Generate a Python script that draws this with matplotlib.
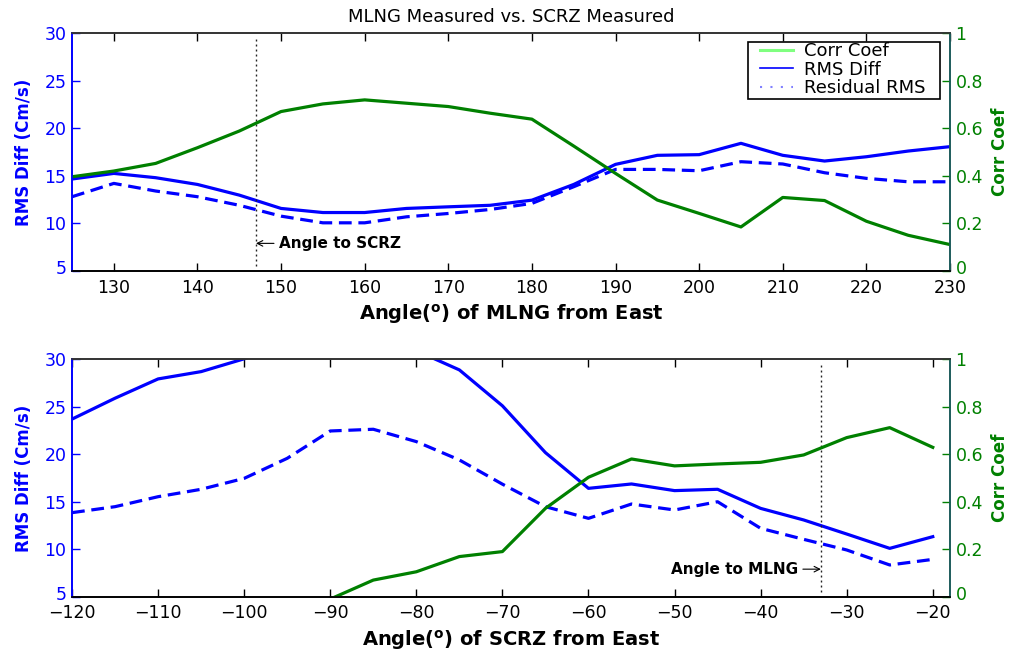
import numpy as np
import matplotlib
matplotlib.use("Agg")
import matplotlib.pyplot as plt
from matplotlib.lines import Line2D
from matplotlib.patches import Rectangle
from matplotlib.transforms import offset_copy, ScaledTranslation

# ---- data -------------------------------------------------------------
top_angle = [125, 130, 135, 140, 145, 150, 155, 160, 165, 170, 175,
             180, 185, 190, 195, 200, 205, 210, 215, 220, 225, 230]
top_corr = [0.396, 0.42, 0.452, 0.518, 0.588, 0.67, 0.702, 0.719, 0.705, 0.691, 0.663,
            0.638, 0.525, 0.41, 0.298, 0.242, 0.185, 0.309, 0.296, 0.209, 0.15, 0.111]
top_rms = [14.66, 15.25, 14.8, 14.09, 12.97, 11.57, 11.14, 11.14, 11.57, 11.74, 11.9,
           12.44, 14.09, 16.2, 17.15, 17.22, 18.41, 17.15, 16.55, 17.0, 17.6, 18.06]
top_resid = [12.8, 14.2, 13.4, 12.8, 11.9, 10.76, 10.06, 10.06, 10.69, 11.04, 11.46,
             12.1, 13.85, 15.67, 15.67, 15.53, 16.48, 16.24, 15.32, 14.73, 14.37, 14.37]
top_marker_angle = 147

bot_angle = [-120, -115, -110, -105, -100, -95, -90, -85, -80, -75, -70,
             -65, -60, -55, -50, -45, -40, -35, -30, -25, -20]
bot_rms = [23.7, 25.9, 27.93, 28.7, 30.05, 31.5, 32.3, 32.0, 30.9, 28.88, 25.1,
           20.17, 16.41, 16.87, 16.17, 16.31, 14.3, 13.08, 11.6, 10.09, 11.32]
bot_resid = [13.85, 14.48, 15.53, 16.31, 17.46, 19.57, 22.45, 22.63, 21.33, 19.4, 16.85,
             14.48, 13.25, 14.76, 14.13, 15.0, 12.2, 11.04, 9.92, 8.34, 8.93]
bot_corr_angle = [-90, -85, -80, -75, -70, -65, -60, -55, -50, -45, -40, -35, -30, -25, -20]
bot_corr = [-0.01, 0.07, 0.105, 0.169, 0.19, 0.372, 0.503, 0.58, 0.551, 0.559,
            0.566, 0.597, 0.67, 0.712, 0.629]
bot_marker_angle = -33

rms_ticks = [5, 10, 15, 20, 25, 30]
corr_ticks = [0, 0.2, 0.4, 0.6, 0.8, 1]
corr_ticklabels = ["0", "0.2", "0.4", "0.6", "0.8", "1"]
top_xticks = list(range(130, 231, 10))
bot_xticks = list(range(-120, -19, 10))
legend_labels = ["Corr Coef", "RMS Diff", "Residual RMS"]

# ---- style ------------------------------------------------------------
BLUE = "#0000ff"
GREEN = "#008000"
TEAL = "#1d5c5c"
LW = 2.3
DASH = (4.0, 2.1)
plt.rcParams["font.family"] = ["DejaVu Sans"]

W, H = 1013, 655
fig = plt.figure(figsize=(W / 100, H / 100), dpi=100)


def make_panel(rect, angles, rms, resid, c_angles, corr, xlim, xticks, xlabel):
    ax = fig.add_axes(rect)
    ax2 = ax.twinx()
    ax.plot(angles, rms, color=BLUE, lw=LW)
    ax.plot(angles, resid, color=BLUE, lw=LW, dashes=DASH)
    ax2.plot(c_angles, corr, color=GREEN, lw=LW)

    ax.set_xlim(*xlim)
    ax.set_ylim(5, 30)
    ax2.set_ylim(0, 1)
    ax.set_xticks(xticks)
    ax.set_yticks(rms_ticks)
    ax2.set_yticks(corr_ticks)
    ax2.set_yticklabels(corr_ticklabels)

    ax.tick_params(axis="x", direction="in", length=6, width=1, top=True,
                   labelsize=12.5, pad=5.5, colors="black")
    ax.tick_params(axis="y", direction="in", length=6, width=1, right=False,
                   labelsize=12.5, colors=BLUE, pad=4)
    ax2.tick_params(axis="y", direction="in", length=6, width=1, left=False,
                    labelsize=12.5, colors=GREEN, pad=4)
    ax2.tick_params(axis="x", top=False, bottom=False)

    for a in (ax, ax2):
        a.spines["left"].set_color(BLUE)
        a.spines["right"].set_color(TEAL)
        a.spines["top"].set_color("#333333")
        a.spines["bottom"].set_color("black")
        for s in a.spines.values():
            s.set_linewidth(1.2)

    # lift the lowest y tick labels a little so they clear the x tick labels
    lift = ScaledTranslation(0, 4 / 100, fig.dpi_scale_trans)
    for lab in (ax.get_yticklabels()[0], ax2.get_yticklabels()[0]):
        lab.set_transform(lab.get_transform() + lift)

    ax.set_xlabel(xlabel, fontsize=14, fontweight="bold", labelpad=4)
    ax.set_ylabel("RMS Diff (Cm/s)", fontsize=12, fontweight="bold", color=BLUE)
    ax.yaxis.set_label_coords(-0.044, 0.5)
    ax2.set_ylabel("Corr Coef", fontsize=12, fontweight="bold", color=GREEN)
    ax2.yaxis.set_label_coords(1.047, 0.5)
    return ax, ax2


xlab_top = r"Angle($^{\mathbf{o}}$) of MLNG from East"
xlab_bot = r"Angle($^{\mathbf{o}}$) of SCRZ from East"

ax1, ax1r = make_panel([0.0711, 0.5863, 0.8667, 0.3633], top_angle, top_rms, top_resid,
                       top_angle, top_corr, (125, 230), top_xticks, xlab_top)
ax2, ax2r = make_panel([0.0711, 0.0890, 0.8667, 0.3625], bot_angle, bot_rms, bot_resid,
                       bot_corr_angle, bot_corr, (-120, -18), bot_xticks, xlab_bot)

ax1.set_title("MLNG Measured vs. SCRZ Measured", fontsize=13, pad=8)

# bearing markers between the two stations
ax1.axvline(top_marker_angle, ymin=0.02, ymax=0.98, color="#222222", lw=1,
            linestyle=(0, (1.4, 2.2)))
ax2.axvline(bot_marker_angle, ymin=0.02, ymax=0.98, color="#222222", lw=1,
            linestyle=(0, (1.4, 2.2)))

ax1.annotate("", xy=(top_marker_angle, 7.9), xytext=(18, 0), textcoords="offset pixels",
             arrowprops=dict(arrowstyle="->", lw=0.8, color="black",
                             shrinkA=0, shrinkB=0))
ax1.text(top_marker_angle, 7.9, "Angle to SCRZ", fontsize=11, fontweight="bold",
         ha="left", va="center",
         transform=offset_copy(ax1.transData, fig=fig, x=23, y=0, units="dots"))

ax2.annotate("", xy=(bot_marker_angle, 7.9), xytext=(-18, 0), textcoords="offset pixels",
             arrowprops=dict(arrowstyle="->", lw=0.8, color="black",
                             shrinkA=0, shrinkB=0))
ax2.text(bot_marker_angle, 7.9, "Angle to MLNG", fontsize=11, fontweight="bold",
         ha="right", va="center",
         transform=offset_copy(ax2.transData, fig=fig, x=-23, y=0, units="dots"))

# legend: boxed key in the upper-right corner of the top panel
box = Rectangle((748 / W, 1 - 99 / H), 192 / W, 57 / H, transform=fig.transFigure,
                facecolor="white", edgecolor="black", lw=1.2, zorder=4, clip_on=False)
ax1r.add_patch(box)
handles = [
    Line2D([], [], color="#80ff80", lw=2.2),
    Line2D([], [], color=BLUE, lw=1.2),
    Line2D([], [], color="#8080ff", lw=1.5, linestyle=(0, (1, 4))),
]
leg = ax1r.legend(handles, legend_labels, loc="upper left",
                  bbox_to_anchor=(760 / W, 1 - 42 / H), bbox_transform=fig.transFigure,
                  fontsize=13, frameon=False, borderaxespad=0, borderpad=0,
                  labelspacing=0.03, handlelength=1.8, handletextpad=0.65)
leg.set_zorder(5)

fig.savefig("out.png", dpi=100)
